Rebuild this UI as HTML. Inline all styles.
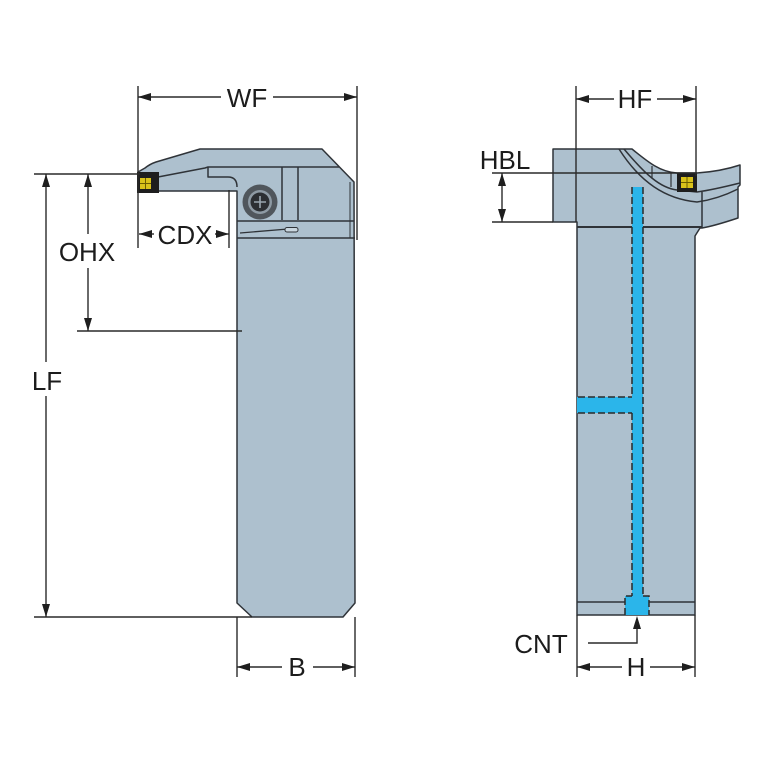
<!DOCTYPE html>
<html><head><meta charset="utf-8"><style>
html,body{margin:0;padding:0;background:#fff;}
svg{display:block;}
text{font-family:"Liberation Sans",sans-serif;font-size:26px;fill:#1c1c1c;text-anchor:middle;}
</style></head><body>
<svg width="767" height="767" viewBox="0 0 767 767" xmlns="http://www.w3.org/2000/svg">
<rect width="767" height="767" fill="#fff"/>

<!-- ================= LEFT VIEW ================= -->
<g stroke="#2f3338" stroke-width="1.5" stroke-linejoin="round">
  <!-- head + body fill -->
  <path d="M138,172 L145,168 Q150,164 156,162 L200,149 L322,149 L354,182 L355,603 L343,617 L252,617 L237,603 L237,191 L138,191 Z" fill="#adc0ce"/>
  <!-- inner lines -->
  <path d="M158,177 L205,168 L208,167 L339,167" fill="none"/>
  <path d="M208,167 L208,177 L228,177 Q237,177 237,187" fill="none"/>
  <line x1="282" y1="167" x2="282" y2="220"/>
  <line x1="298" y1="167" x2="298" y2="220"/>
  <line x1="237" y1="221" x2="354" y2="221"/>
  <line x1="237" y1="238" x2="355" y2="238"/>
  <line x1="350" y1="182" x2="350" y2="238" stroke-width="1"/>
  <path d="M240,233 L288,229" fill="none" stroke-width="1.3"/>
  <rect x="285" y="227.5" width="13" height="4.5" rx="2" fill="#c9d6df" stroke-width="1"/>
</g>
<!-- screw -->
<circle cx="260" cy="202" r="17.5" fill="#50565c"/>
<circle cx="260" cy="202" r="12" fill="#8e9aa4"/>
<circle cx="260" cy="202" r="9.5" fill="#2c2f33"/>
<path d="M260,196 V208 M254,202 H266" stroke="#9aa6b0" stroke-width="1.6"/>
<!-- insert -->
<rect x="137" y="172" width="22" height="21" fill="#1e1e1e"/>
<rect x="140" y="178" width="11" height="11" fill="#d9c21a"/>
<line x1="145.5" y1="178" x2="145.5" y2="189" stroke="#6b5d00" stroke-width="1"/>
<line x1="140" y1="183.5" x2="151" y2="183.5" stroke="#6b5d00" stroke-width="1"/>

<!-- dimension / extension lines left -->
<g stroke="#2a2a2a" stroke-width="1.4" fill="none">
  <line x1="138" y1="86" x2="138" y2="248"/>
  <line x1="357" y1="86" x2="357" y2="240"/>
  <line x1="229" y1="190" x2="229" y2="248"/>
  <line x1="138" y1="97" x2="221" y2="97"/>
  <line x1="273" y1="97" x2="357" y2="97"/>
  <line x1="34" y1="174" x2="140" y2="174"/>
  <line x1="77" y1="331" x2="242" y2="331"/>
  <line x1="34" y1="617" x2="252" y2="617"/>
  <line x1="88" y1="174" x2="88" y2="234"/>
  <line x1="88" y1="268" x2="88" y2="331"/>
  <line x1="46" y1="174" x2="46" y2="362"/>
  <line x1="46" y1="396" x2="46" y2="617"/>
  <line x1="237" y1="617" x2="237" y2="677"/>
  <line x1="355" y1="617" x2="355" y2="677"/>
  <line x1="237" y1="667" x2="282" y2="667"/>
  <line x1="313" y1="667" x2="355" y2="667"/>
  <line x1="139" y1="234" x2="154" y2="234"/>
  <line x1="215" y1="234" x2="229" y2="234"/>
</g>
<g fill="#1e1e1e">
  <polygon points="138,97 151,93 151,101"/>
  <polygon points="357,97 344,93 344,101"/>
  <polygon points="139,234 152,230 152,238"/>
  <polygon points="229,234 216,230 216,238"/>
  <polygon points="88,174 84,187 92,187"/>
  <polygon points="88,331 84,318 92,318"/>
  <polygon points="46,174 42,187 50,187"/>
  <polygon points="46,617 42,604 50,604"/>
  <polygon points="237,667 250,663 250,671"/>
  <polygon points="355,667 342,663 342,671"/>
</g>
<text x="247" y="107">WF</text>
<text x="185" y="244">CDX</text>
<text x="87" y="261">OHX</text>
<text x="47" y="390">LF</text>
<text x="297" y="676">B</text>

<!-- ================= RIGHT VIEW ================= -->
<g stroke="#2f3338" stroke-width="1.5" stroke-linejoin="round">
  <path d="M553,149 L632,149 C648,162 660,172 677,173 L697,173 C712,172 728,169 740,165 L740,185 L738,187 L738,218 C726,222 714,226 702,228 L700,228 L695,236 L695,615 L577,615 L577,222 L553,222 Z" fill="#adc0ce"/>
  <path d="M624,149 C645,174 660,188 677,190 L697,192 C712,190 728,186 740,183" fill="none"/>
  <path d="M619,149 C640,182 665,199 697,202 C712,200 726,195 738,189" fill="none"/>
  <line x1="652" y1="166" x2="652" y2="178" stroke-width="1.2"/>
  <line x1="671" y1="172" x2="671" y2="187" stroke-width="1.2"/>
  <line x1="702" y1="192" x2="702" y2="228"/>
  <line x1="577" y1="227" x2="702" y2="227" stroke-width="2"/>
  <line x1="577" y1="602" x2="695" y2="602"/>
</g>
<!-- insert right -->
<rect x="677" y="173" width="20" height="19" fill="#1e1e1e"/>
<rect x="681" y="177" width="12" height="11" fill="#d9c21a"/>
<line x1="687" y1="177" x2="687" y2="188" stroke="#6b5d00" stroke-width="1"/>
<line x1="681" y1="182.5" x2="693" y2="182.5" stroke="#6b5d00" stroke-width="1"/>

<!-- coolant channels -->
<g fill="#2bb5ea">
  <rect x="632" y="187" width="11" height="410"/>
  <rect x="577" y="397" width="56" height="16"/>
  <rect x="625" y="596" width="24" height="19"/>
</g>
<g stroke="#2a2a2a" stroke-width="1.5" stroke-dasharray="7,3" fill="none">
  <line x1="632" y1="187" x2="632" y2="397"/>
  <line x1="632" y1="413" x2="632" y2="596"/>
  <line x1="643" y1="187" x2="643" y2="596"/>
  <line x1="578" y1="397" x2="632" y2="397"/>
  <line x1="578" y1="413" x2="632" y2="413"/>
  <path d="M625,615 L625,596 L632,596 M643,596 L649,596 L649,615"/>
</g>

<!-- dimension / extension lines right -->
<g stroke="#2a2a2a" stroke-width="1.4" fill="none">
  <line x1="576" y1="86" x2="576" y2="222"/>
  <line x1="696" y1="86" x2="696" y2="176"/>
  <line x1="576" y1="99" x2="614" y2="99"/>
  <line x1="657" y1="99" x2="696" y2="99"/>
  <line x1="492" y1="173" x2="697" y2="173"/>
  <line x1="492" y1="222" x2="553" y2="222"/>
  <line x1="502" y1="173" x2="502" y2="222"/>
  <line x1="577" y1="615" x2="577" y2="677"/>
  <line x1="695" y1="615" x2="695" y2="677"/>
  <line x1="577" y1="667" x2="622" y2="667"/>
  <line x1="650" y1="667" x2="695" y2="667"/>
  <path d="M588,643 L637,643 L637,626"/>
</g>
<g fill="#1e1e1e">
  <polygon points="576,99 589,95 589,103"/>
  <polygon points="696,99 683,95 683,103"/>
  <polygon points="502,173 498,186 506,186"/>
  <polygon points="502,222 498,209 506,209"/>
  <polygon points="577,667 590,663 590,671"/>
  <polygon points="695,667 682,663 682,671"/>
  <polygon points="637,616 633,629 641,629"/>
</g>
<text x="635" y="108">HF</text>
<text x="505" y="169">HBL</text>
<text x="541" y="653">CNT</text>
<text x="636" y="676">H</text>
</svg>
</body></html>
